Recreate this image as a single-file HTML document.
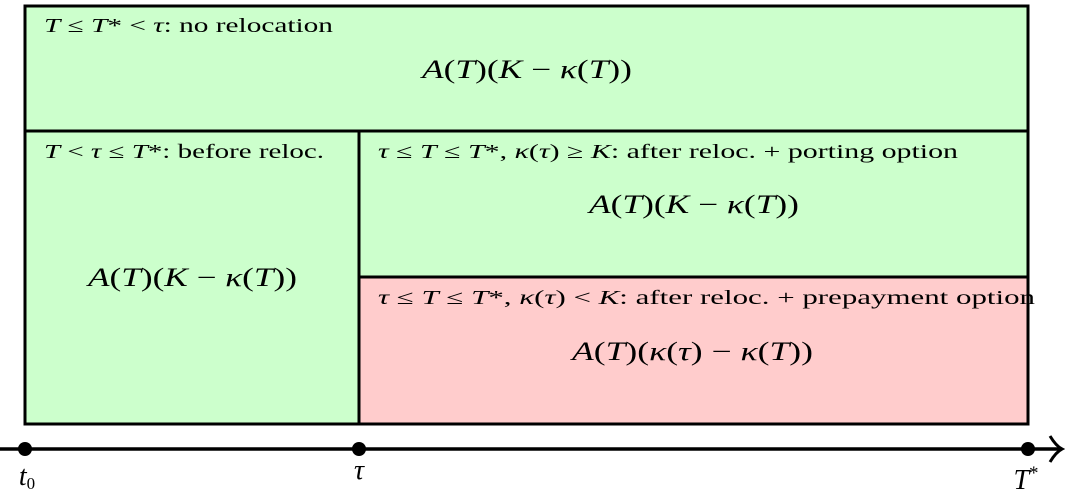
<!DOCTYPE html>
<html><head><meta charset="utf-8"><style>
html,body{margin:0;padding:0;background:#fff;width:1065px;height:492px;overflow:hidden}
text{font-family:"Liberation Serif",serif;fill:#000}
.s{font-size:20px}.b{font-size:26px}
</style></head><body>
<svg width="1065" height="492" viewBox="0 0 1065 492" xmlns="http://www.w3.org/2000/svg">
<rect x="25" y="6" width="1003" height="125" fill="#ccffcc" stroke="#000" stroke-width="3"/>
<rect x="25" y="131" width="334" height="293" fill="#ccffcc" stroke="#000" stroke-width="3"/>
<rect x="359" y="131" width="669" height="146" fill="#ccffcc" stroke="#000" stroke-width="3"/>
<rect x="359" y="277" width="669" height="147" fill="#ffcccc" stroke="#000" stroke-width="3"/>
<line x1="0" y1="449" x2="1060" y2="449" stroke="#000" stroke-width="3.5"/>
<path d="M1050 436 Q1056 446 1062 449 Q1056 452 1050 462" fill="none" stroke="#000" stroke-width="3"/>
<circle cx="25" cy="449" r="7"/><circle cx="359" cy="449" r="7"/><circle cx="1028" cy="449" r="7"/>
<text class="s" x="44" y="32" textLength="289" lengthAdjust="spacingAndGlyphs"><tspan font-style="italic">T</tspan> ≤ <tspan font-style="italic">T</tspan>* &lt; <tspan font-style="italic">τ</tspan>: no relocation</text>
<text class="b" x="422" y="78" textLength="210" lengthAdjust="spacingAndGlyphs"><tspan font-style="italic">A</tspan>(<tspan font-style="italic">T</tspan>)(<tspan font-style="italic">K</tspan> − <tspan font-style="italic">κ</tspan>(<tspan font-style="italic">T</tspan>))</text>
<text class="s" x="44" y="158" textLength="280" lengthAdjust="spacingAndGlyphs"><tspan font-style="italic">T</tspan> &lt; <tspan font-style="italic">τ</tspan> ≤ <tspan font-style="italic">T</tspan>*: before reloc.</text>
<text class="b" x="88" y="286" textLength="209" lengthAdjust="spacingAndGlyphs"><tspan font-style="italic">A</tspan>(<tspan font-style="italic">T</tspan>)(<tspan font-style="italic">K</tspan> − <tspan font-style="italic">κ</tspan>(<tspan font-style="italic">T</tspan>))</text>
<text class="s" x="378" y="158" textLength="580" lengthAdjust="spacingAndGlyphs"><tspan font-style="italic">τ</tspan> ≤ <tspan font-style="italic">T</tspan> ≤ <tspan font-style="italic">T</tspan>*, <tspan font-style="italic">κ</tspan>(<tspan font-style="italic">τ</tspan>) ≥ <tspan font-style="italic">K</tspan>: after reloc. + porting option</text>
<text class="b" x="589" y="213" textLength="210" lengthAdjust="spacingAndGlyphs"><tspan font-style="italic">A</tspan>(<tspan font-style="italic">T</tspan>)(<tspan font-style="italic">K</tspan> − <tspan font-style="italic">κ</tspan>(<tspan font-style="italic">T</tspan>))</text>
<text class="s" x="378" y="304" textLength="657" lengthAdjust="spacingAndGlyphs"><tspan font-style="italic">τ</tspan> ≤ <tspan font-style="italic">T</tspan> ≤ <tspan font-style="italic">T</tspan>*, <tspan font-style="italic">κ</tspan>(<tspan font-style="italic">τ</tspan>) &lt; <tspan font-style="italic">K</tspan>: after reloc. + prepayment option</text>
<text class="b" x="572" y="360" textLength="241" lengthAdjust="spacingAndGlyphs"><tspan font-style="italic">A</tspan>(<tspan font-style="italic">T</tspan>)(<tspan font-style="italic">κ</tspan>(<tspan font-style="italic">τ</tspan>) − <tspan font-style="italic">κ</tspan>(<tspan font-style="italic">T</tspan>))</text>
<text x="27" y="485" text-anchor="middle" font-size="28"><tspan font-style="italic">t</tspan><tspan font-size="17" dy="4">0</tspan></text>
<text x="359" y="479" text-anchor="middle" font-style="italic" font-size="28">τ</text>
<text x="1026" y="489" text-anchor="middle" font-size="28"><tspan font-style="italic">T</tspan><tspan font-size="19" dy="-10">*</tspan></text>
</svg>
</body></html>
